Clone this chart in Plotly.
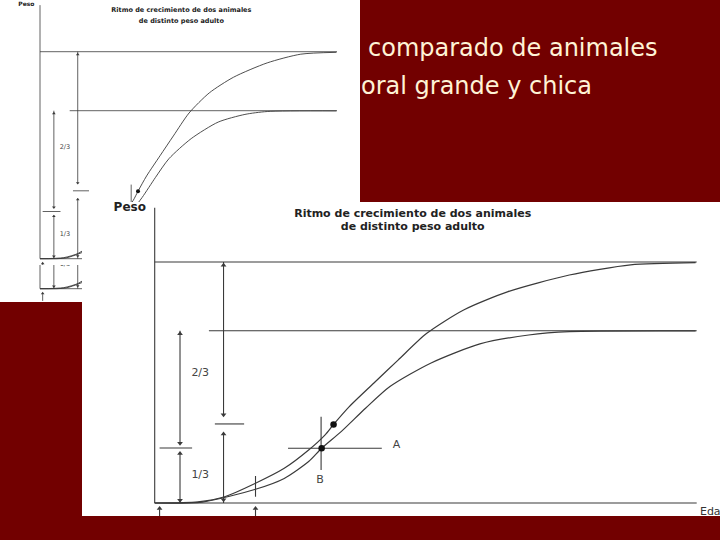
import plotly.graph_objects as go

W, H = 720, 540

# ---------------- data ----------------
# Edad (0-100 = time to adult weight), Peso (% of the large animal's adult weight)
edad_grande = [0, 8.0, 12.9, 18.6, 23.9, 28.4, 31.4, 33.0, 35.9, 40.4, 44.9, 50.2, 57.0, 65.2, 76.5, 87.8, 99.8]
peso_grande = [0, 0.5, 2.6, 8.2, 14.4, 22.0, 28.2, 32.6, 40.0, 49.7, 59.3, 70.4, 80.1, 87.7, 94.6, 98.8, 99.7]
edad_chico = [0, 8.8, 18.6, 23.9, 28.4, 30.8, 34.4, 38.9, 43.4, 50.9, 60.0, 69.0, 76.5, 99.8]
peso_chico = [0, 0.4, 5.7, 10.2, 17.2, 22.7, 29.6, 39.3, 48.3, 58.0, 66.0, 69.7, 71.1, 71.4]

peso_adulto = [100, 71.5]          # grande, chico
inicio_adulto = [0, 10.0]          # where each adult-weight line starts
edad_fin = 100
tercio_grande = 32.8
tercio_chico = 22.8
x_flecha_chico = 4.67
x_flecha_grande = 12.7
punto_A = (33.0, 32.6)
punto_B = (30.8, 22.7)
edad_marca = [0.9, 18.6]
peso_eje_max = 122.5

etiquetas = ["2/3", "1/3", "A", "B"]
etiquetas_x = [8.4, 8.4, 44.6, 30.5]
etiquetas_y = [53.8, 11.6, 24.0, 9.5]
titulo = ["Ritmo de crecimiento de dos animales", "de distinto peso adulto"]
titulo_x = 47.6
titulo_y = [119.8, 114.5]

# ---------------- build geometry ----------------
def seg_list():
    segs = []
    segs.append(((0, 0), (0, peso_eje_max)))
    segs.append(((0, 0), (edad_fin, 0)))
    for p, s in zip(peso_adulto, inicio_adulto):
        segs.append(((s, p), (edad_fin, p)))
    # arrows for the small animal
    segs.append(((x_flecha_chico, peso_adulto[1]), (x_flecha_chico, tercio_chico + 1.8)))
    segs.append(((x_flecha_chico, tercio_chico - 1.8), (x_flecha_chico, 0)))
    segs.append(((0.9, tercio_chico), (6.9, tercio_chico)))
    # arrows for the large animal
    segs.append(((x_flecha_grande, peso_adulto[0]), (x_flecha_grande, tercio_grande + 3.5)))
    segs.append(((x_flecha_grande, tercio_grande - 3.6), (x_flecha_grande, 0)))
    segs.append(((11.1, tercio_grande), (16.5, tercio_grande)))
    # cross at A / B
    segs.append(((24.6, punto_B[1]), (41.9, punto_B[1])))
    segs.append(((30.7, 13.7), (30.7, 35.8)))
    segs.append(((edad_marca[1], 2.6), (edad_marca[1], 11.2)))
    for e in edad_marca:
        segs.append(((e, -5.9), (e, -2.6)))
    xs, ys = [], []
    for (a, b) in segs:
        xs += [a[0], b[0], None]
        ys += [a[1], b[1], None]
    return xs, ys

seg_x, seg_y = seg_list()
up_x = [x_flecha_chico, x_flecha_chico, x_flecha_grande, x_flecha_grande] + edad_marca
up_y = [peso_adulto[1] - 1.3, tercio_chico - 2.3, peso_adulto[0] - 1.3, tercio_grande - 4.2, -2.3, -2.3]
dn_x = [x_flecha_chico, x_flecha_chico, x_flecha_grande, x_flecha_grande]
dn_y = [tercio_chico + 2.0, 1.1, tercio_grande + 3.8, 1.3]

big = dict(lw=1.1, cw=1.2, title=11, lab=11, peso=12, dot=6.5, head=5)
small = dict(lw=0.8, cw=0.9, title=6.5, lab=6.5, peso=6, dot=4, head=3.2)

panels = [
    dict(ax="", px=(82, 720), py=(202, 516), ox=154.7, kx=5.42, oy=503.0, ky=2.41, st=big, edad=True),
    dict(ax="2", px=(0, 360), py=(0, 202), ox=40.0, kx=2.97, oy=258.7, ky=2.07, st=small, edad=False),
    dict(ax="3", px=(0, 82), py=(202, 265), ox=40.0, kx=2.97, oy=258.7, ky=2.07, st=small, edad=False),
    dict(ax="4", px=(0, 82), py=(265, 302), ox=40.0, kx=2.97, oy=288.7, ky=2.07, st=small, edad=False),
]

INK = "#3a3a3a"
fig = go.Figure()
layout_axes = {}
for p in panels:
    st = p["st"]
    xr = "x" + p["ax"]
    yr = "y" + p["ax"]
    common = dict(xaxis=xr, yaxis=yr, hoverinfo="skip", showlegend=False)
    fig.add_trace(go.Scatter(x=seg_x, y=seg_y, mode="lines",
                             line=dict(color=INK, width=st["lw"]), **common))
    for ex, py_ in [(edad_grande, peso_grande), (edad_chico, peso_chico)]:
        fig.add_trace(go.Scatter(x=ex, y=py_, mode="lines",
                                 line=dict(color=INK, width=st["cw"], shape="spline", smoothing=0.7),
                                 cliponaxis=True, **common))
    fig.add_trace(go.Scatter(x=up_x, y=up_y, mode="markers", cliponaxis=True,
                             marker=dict(symbol="triangle-up", size=st["head"], color=INK), **common))
    fig.add_trace(go.Scatter(x=dn_x, y=dn_y, mode="markers", cliponaxis=True,
                             marker=dict(symbol="triangle-down", size=st["head"], color=INK), **common))
    fig.add_trace(go.Scatter(x=[punto_A[0], punto_B[0]], y=[punto_A[1], punto_B[1]], mode="markers",
                             cliponaxis=True, marker=dict(size=st["dot"], color="#111"), **common))
    fig.add_trace(go.Scatter(x=etiquetas_x, y=etiquetas_y, text=etiquetas, mode="text", cliponaxis=True,
                             textfont=dict(family="DejaVu Sans", size=st["lab"], color="#444"), **common))
    fig.add_trace(go.Scatter(x=[titulo_x, titulo_x], y=titulo_y, text=titulo, mode="text", cliponaxis=True,
                             textfont=dict(family="DejaVu Sans", size=st["title"], color="#222", weight="bold"),
                             **common))
    fig.add_trace(go.Scatter(x=[-4.6], y=[122.6], text=["Peso"], mode="text", cliponaxis=True,
                             textfont=dict(family="DejaVu Sans", size=st["peso"], color="#222", weight="bold"),
                             **common))
    if p["edad"]:
        fig.add_trace(go.Scatter(x=[100.6], y=[-3.7], text=["Edad"], mode="text", cliponaxis=True,
                                 textposition="middle right",
                                 textfont=dict(family="DejaVu Sans", size=11, color="#333"), **common))
    x0, x1 = p["px"]
    y0, y1 = p["py"]
    xrange = [(x0 - p["ox"]) / p["kx"], (x1 - p["ox"]) / p["kx"]]
    yrange = [(p["oy"] - y1) / p["ky"], (p["oy"] - y0) / p["ky"]]
    axkw = dict(showgrid=False, zeroline=False, showticklabels=False, ticks="", showline=False, fixedrange=True)
    layout_axes["xaxis" + p["ax"]] = dict(domain=[x0 / W, x1 / W], range=xrange, anchor=yr, **axkw)
    layout_axes["yaxis" + p["ax"]] = dict(domain=[1 - y1 / H, 1 - y0 / H], range=yrange, anchor=xr, **axkw)

fig.update_layout(
    width=W, height=H,
    margin=dict(l=0, r=0, t=0, b=0),
    paper_bgcolor="#720000",
    plot_bgcolor="white",
    showlegend=False,
    **layout_axes,
)

CREAM = "#FFF3D6"
fig.add_annotation(text="comparado de animales", xref="paper", yref="paper",
                   x=366 / W, y=1 - 48 / H, xanchor="left", yanchor="middle", showarrow=False,
                   font=dict(family="DejaVu Sans", size=24, color=CREAM))
fig.add_annotation(text="oral grande y chica", xref="paper", yref="paper",
                   x=359 / W, y=1 - 86 / H, xanchor="left", yanchor="middle", showarrow=False,
                   font=dict(family="DejaVu Sans", size=24, color=CREAM))

fig.write_html("out.html", config={"displayModeBar": False},
               post_script="document.body.style.margin='0';document.body.style.background='#720000';")
